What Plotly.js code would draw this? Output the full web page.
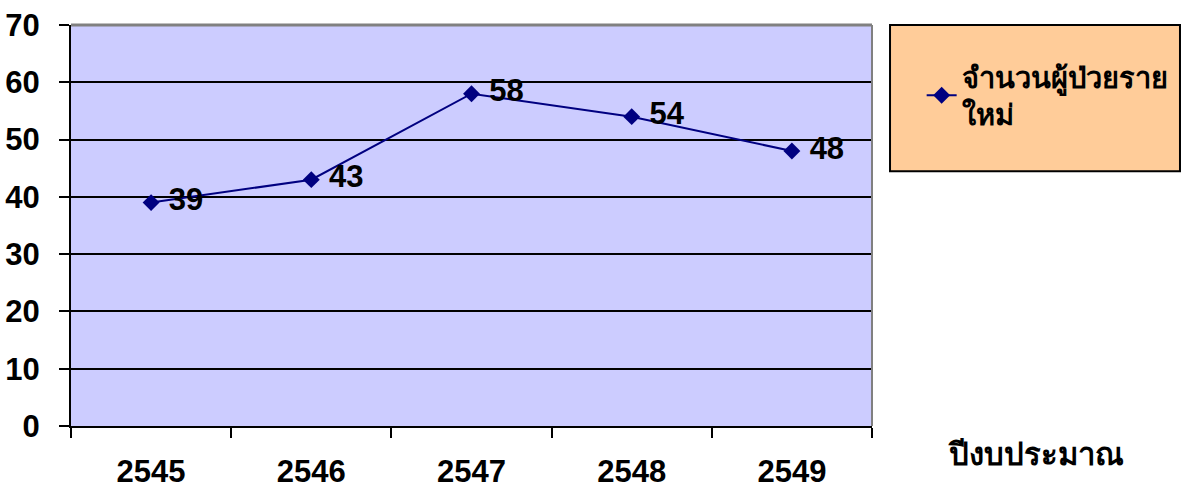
<!DOCTYPE html>
<html>
<head>
<meta charset="utf-8">
<script src="https://cdn.plot.ly/plotly-3.0.1.min.js"></script>
<style>
html,body{margin:0;padding:0;background:#fff;}
#chart{width:1193px;height:489px;}
</style>
</head>
<body>
<div id="chart"></div>
<script>
const years = ["2545", "2546", "2547", "2548", "2549"];
const newPatients = [39, 43, 58, 54, 48];
const seriesName = "จำนวนผู้ป่วยราย<br>ใหม่";
const xTitle = "ปีงบประมาณ";
const yTicks = [0, 10, 20, 30, 40, 50, 60, 70];

const FONT = "Liberation Sans, Arial, DejaVu Sans, sans-serif";

const trace = {
  x: years,
  y: newPatients,
  type: "scatter",
  mode: "lines+markers+text",
  name: seriesName,
  text: newPatients.map(v => " " + v),
  textposition: "middle right",
  textfont: {family: FONT, size: 31, color: "#000", weight: "bold"},
  line: {color: "#000080", width: 2},
  marker: {symbol: "diamond", size: 13, color: "#000080"},
  cliponaxis: false
};

const layout = {
  width: 1193,
  height: 489,
  margin: {l: 71, r: 321, t: 25, b: 63},
  paper_bgcolor: "#ffffff",
  plot_bgcolor: "#CCCCFF",
  font: {family: FONT, color: "#000"},
  showlegend: true,
  legend: {
    x: 1.062, y: 0.935, xanchor: "left", yanchor: "top",
    bgcolor: "rgba(0,0,0,0)",
    font: {family: FONT, size: 29, color: "#000", weight: "bold"},
    borderwidth: 0
  },
  xaxis: {
    type: "category",
    range: [-0.5, 4.5],
    tickson: "boundaries",
    ticks: "outside",
    ticklen: 10,
    tickwidth: 2,
    tickcolor: "#000",
    showline: true,
    linecolor: "#000",
    linewidth: 2,
    showgrid: false,
    ticklabelstandoff: 17,
    tickfont: {family: FONT, size: 31, color: "#000", weight: "bold"},
    fixedrange: true
  },
  yaxis: {
    range: [0, 70],
    tickvals: yTicks,
    ticks: "outside",
    ticklen: 10,
    tickwidth: 2,
    tickcolor: "#000",
    showline: true,
    linecolor: "#000",
    linewidth: 2,
    showgrid: true,
    gridcolor: "#000",
    gridwidth: 2,
    zeroline: false,
    ticklabelstandoff: 13,
    tickfont: {family: FONT, size: 31, color: "#000", weight: "bold"},
    fixedrange: true
  },
  shapes: [
    {type: "line", xref: "paper", yref: "paper", x0: 0, x1: 1, y0: 1, y1: 1,
     line: {color: "#808080", width: 3}, layer: "above"},
    {type: "line", xref: "paper", yref: "paper", x0: 1, x1: 1, y0: 0, y1: 1,
     line: {color: "#808080", width: 2}, layer: "above"},
    {type: "rect", xref: "paper", yref: "paper", x0: 1.0225, x1: 1.3845, y0: 0.635, y1: 1.0,
     fillcolor: "#FFCC99", line: {color: "#000", width: 2}, layer: "below"}
  ],
  annotations: [
    {text: xTitle, xref: "paper", yref: "paper", x: 1.205, y: -0.07,
     xanchor: "center", yanchor: "middle", showarrow: false,
     font: {family: FONT, size: 31, color: "#000", weight: "bold"}}
  ]
};

Plotly.newPlot("chart", [trace], layout, {displayModeBar: false, staticPlot: true});
</script>
</body>
</html>
